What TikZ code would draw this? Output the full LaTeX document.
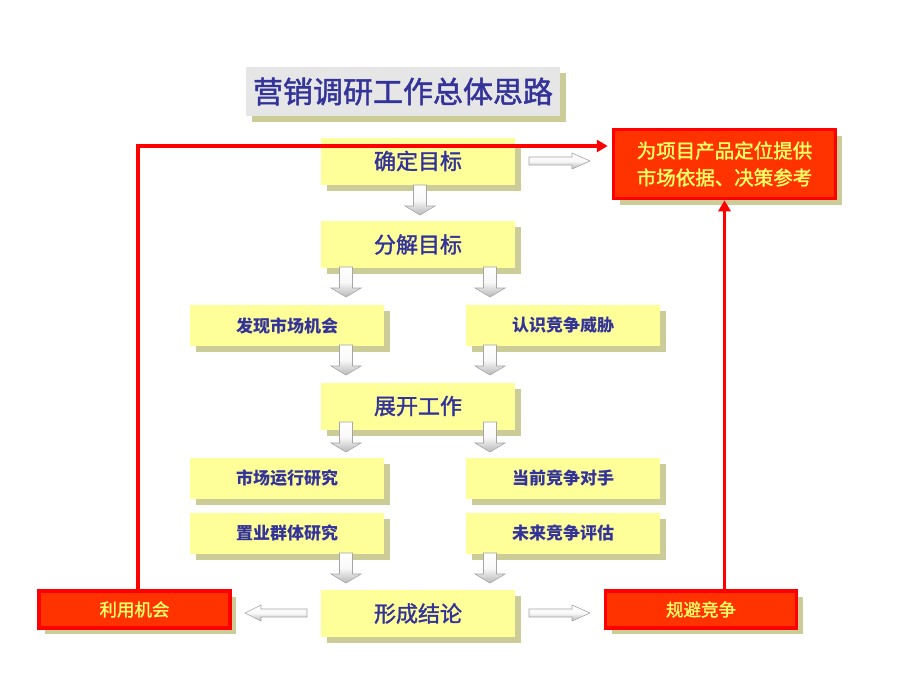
\documentclass[tikz,border=0pt]{standalone}
\usepackage{fontspec}
\newfontfamily\cjk{Noto Sans CJK SC}
\newfontfamily\cjkm[FakeBold=1.5]{Noto Sans CJK SC}
\usetikzlibrary{shadows,arrows.meta,calc}
\definecolor{ybox}{HTML}{FFFF99}
\definecolor{shad}{HTML}{CCCC99}
\definecolor{btext}{HTML}{333399}
\definecolor{rfill}{HTML}{FF3300}
\definecolor{rline}{HTML}{FF0000}
\definecolor{rtext}{HTML}{FFFF66}
\definecolor{tbg}{HTML}{E6E6E6}
\tikzset{
  shd/.style={general shadow={fill=shad, shadow xshift=6pt, shadow yshift=-6pt}},
  titlebox/.style={shd, fill=tbg, minimum width=314pt, minimum height=49pt, inner sep=0pt, font=\cjkm\fontsize{30}{32}\selectfont, text=btext},
  bigbox/.style={shd, fill=ybox, minimum width=194pt, minimum height=47pt, inner sep=0pt, font=\cjkm\fontsize{22}{24}\selectfont, text=btext},
  smallbox/.style={shd, fill=ybox, minimum width=194pt, minimum height=41pt, inner sep=0pt, font=\cjk\bfseries\fontsize{17}{19}\selectfont, text=btext},
  redbox/.style={shd, fill=rfill, draw=rline, line width=3.5pt, minimum width=191pt, minimum height=37pt, inner sep=0pt, font=\cjkm\fontsize{17.5}{19}\selectfont, text=rtext},
  redline/.style={draw=rline, line width=3.5pt, -{Triangle[length=11pt,width=12pt]}},
  blk/.style={draw=gray!70, line width=0.6pt, top color=white, bottom color=gray!55, middle color=white!95!gray}
}
% \barrow{x}{y}{angle}{length}{shaft half}{head half}{head length}
\newcommand{\barrow}[7]{%
  \path[blk, shift={(#1,#2)}, rotate=#3]
    (0,-#5) -- ({#4-#7},-#5) -- ({#4-#7},-#6) -- (#4,0) -- ({#4-#7},#6) -- ({#4-#7},#5) -- (0,#5) -- cycle;}
\begin{document}
\begin{tikzpicture}[x=1pt,y=-1pt]
\useasboundingbox (0,0) rectangle (920,690);
\fill[white] (0,0) rectangle (920,690);

\node[titlebox] (title) at (403,91.5) {营销调研工作总体思路};

\node[bigbox] (qd) at (418,161) {确定目标};
\node[bigbox] (fj) at (418,244.5) {分解目标};
\node[smallbox] (fx) at (287,325.5) {发现市场机会};
\node[smallbox] (rs) at (563,325.5) {认识竞争威胁};
\node[bigbox] (zk) at (418,406) {展开工作};
\node[smallbox] (sc) at (287,478.5) {市场运行研究};
\node[smallbox] (dq) at (563,478.5) {当前竞争对手};
\node[smallbox] (zy) at (287,533) {置业群体研究};
\node[smallbox] (wl) at (563,533) {未来竞争评估};
\node[bigbox] (xc) at (418,613.5) {形成结论};

\node[redbox] (ly) at (134.5,609.5) {利用机会};
\node[redbox] (gb) at (701,609.5) {规避竞争};
\node[redbox, minimum width=222pt, minimum height=69pt, align=center, font=\cjkm\fontsize{19.5}{27}\selectfont] (goal) at (724.5,164) {为项目产品定位提供\\市场依据、决策参考};

% block arrows
\barrow{420}{185}{-90}{30}{6.5}{15}{9}
\barrow{346}{267}{-90}{30}{6.5}{15}{9}
\barrow{490}{267}{-90}{30}{6.5}{15}{9}
\barrow{346}{345}{-90}{30}{6.5}{15}{9}
\barrow{490}{345}{-90}{30}{6.5}{15}{9}
\barrow{346}{422}{-90}{30}{6.5}{15}{9}
\barrow{490}{422}{-90}{30}{6.5}{15}{9}
\barrow{346}{553}{-90}{30}{6.5}{15}{9}
\barrow{490}{553}{-90}{30}{6.5}{15}{9}
\barrow{529}{161}{0}{61}{4}{8}{18}
\barrow{529}{613}{0}{61}{4}{8}{18}
\barrow{307}{613}{180}{62}{4}{8}{16}

% red connectors
\coordinate (bend) at (138,146);
\draw[redline, shorten >=4pt] (ly.north -| bend) -- (bend) -- (bend -| goal.west);
\draw[redline] (gb.north -| goal.south) -- (goal.south);
\end{tikzpicture}
\end{document}
